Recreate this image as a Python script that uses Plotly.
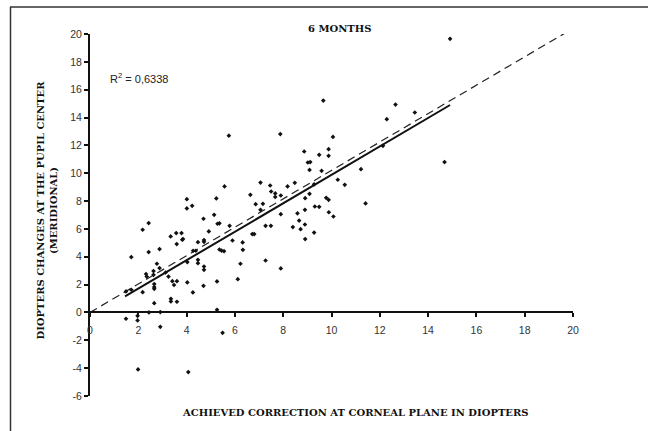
import plotly.graph_objects as go

# ---- data ----
x_vals = [14.91, 9.66, 12.65, 13.45, 12.29, 7.88, 10.06, 8.87, 9.88, 9.88, 9.49, 9.02, 9.12, 9.09, 9.59,
          11.22, 12.13, 14.68, 10.26, 10.55, 11.41, 7.46, 8.18, 8.48, 9.28, 7.5, 7.67, 7.67, 7.9, 9.09,
          8.91, 9.78, 9.88, 9.31, 9.49, 8.9, 9.89, 10.08, 8.59, 7.9, 7.49, 7.27, 8.4, 8.66, 8.72, 8.9,
          8.91, 9.28, 7.9,
          5.57, 7.06, 6.64, 4.01, 5.23, 4.01, 4.23, 6.86, 7.16, 7.06, 5.14, 2.43, 2.18, 4.7, 5.28, 5.36,
          5.78, 4.92, 3.34, 3.57, 3.79, 3.82, 3.85, 3.59, 4.47, 4.72, 4.72, 2.88, 2.43, 1.71, 4.27, 4.38,
          5.36, 5.45, 5.55, 5.9, 6.32, 6.33, 6.72, 6.8, 7.27, 6.23, 6.12, 5.26, 4.7, 4.72, 4.72, 4.47,
          4.47, 4.03, 4.03, 4.26, 3.41, 3.48, 3.6, 3.13, 3.25, 2.88, 2.77, 2.63, 2.63, 2.66, 2.66, 2.66,
          2.32, 2.35, 2.18, 1.71, 1.49, 2.66, 3.35, 3.35, 3.6, 5.26, 5.75,
          1.49, 1.97, 1.97, 2.44, 2.91, 2.91, 5.49, 1.99, 4.07]
y_vals = [19.65, 15.22, 14.93, 14.36, 13.88, 12.81, 12.61, 11.56, 11.73, 11.25, 11.32, 10.77, 10.8, 10.24, 10.17,
          10.29, 11.97, 10.8, 9.53, 9.17, 7.83, 9.12, 9.05, 9.31, 9.2, 8.69, 8.55, 8.3, 8.4, 8.52,
          8.21, 8.23, 8.09, 7.61, 7.59, 7.37, 7.2, 6.89, 7.12, 7.06, 6.22, 6.22, 6.13, 6.6, 5.98, 6.32,
          5.27, 5.74, 3.16,
          9.05, 9.33, 8.45, 8.14, 8.19, 7.47, 7.66, 7.78, 7.8, 7.37, 7.01, 6.42, 5.94, 6.73, 6.37, 6.4,
          6.22, 5.82, 5.46, 5.7, 5.7, 5.22, 5.27, 4.91, 5.05, 5.2, 5.07, 4.55, 4.34, 3.98, 4.43, 4.43,
          4.52, 4.44, 4.4, 5.17, 5.03, 4.5, 5.63, 5.63, 3.73, 3.5, 2.39, 2.23, 1.91, 3.3, 3.06, 3.78,
          3.54, 3.62, 2.16, 1.44, 2.25, 1.97, 2.25, 2.87, 2.58, 3.19, 3.5, 2.97, 2.7, 2.04, 1.82, 1.7,
          2.76, 2.58, 1.46, 1.63, 1.51, 0.67, 0.98, 0.79, 0.77, 0.19, 12.7,
          -0.45, -0.24, -0.57, 0.0, 0.03, -1.03, -1.46, -4.09, -4.28]

identity_x = [0, 19.8]
identity_y = [0, 20.2]
fit_x = [1.45, 14.91]
fit_y = [1.15, 14.9]

x_ticks = [0, 2, 4, 6, 8, 10, 12, 14, 16, 18, 20]
x_tick_labels = ["0", "2", "4", "6", "8", "10", "12", "14", "16", "18", "20"]
y_ticks = [-6, -4, -2, 0, 2, 4, 6, 8, 10, 12, 14, 16, 18, 20]
y_tick_labels = ["-6", "-4", "-2", "0", "2", "4", "6", "8", "10", "12", "14", "16", "18", "20"]

title_text = "6 MONTHS"
r2_text = "R<sup>2</sup> = 0,6338"
x_title = "ACHIEVED CORRECTION AT CORNEAL PLANE IN DIOPTERS"
y_title = "DIOPTERS CHANGES AT THE PUPIL CENTER<br>(MERIDIONAL)"

# ---- figure ----
W, H = 648, 431
ML, MR, MT, MB = 90, 75, 34, 35
pw, ph = W - ML - MR, H - MT - MB

def px(xp):
    return (xp - ML) / pw

def py(yp):
    return (H - MB - yp) / ph

serif = "DejaVu Serif"
sans = "Liberation Sans, Arial, sans-serif"

fig = go.Figure()
fig.add_trace(go.Scatter(x=identity_x, y=identity_y, mode="lines",
                         line=dict(color="#222", width=1.2, dash="8px,5px"), hoverinfo="skip"))
fig.add_trace(go.Scatter(x=fit_x, y=fit_y, mode="lines",
                         line=dict(color="#111", width=2), hoverinfo="skip"))
fig.add_trace(go.Scatter(x=x_vals, y=y_vals, mode="markers",
                         marker=dict(symbol="diamond", size=3.6, color="#111", line=dict(width=0))))

fig.update_layout(
    template="none",
    width=W, height=H,
    margin=dict(l=ML, r=MR, t=MT, b=MB, autoexpand=False),
    paper_bgcolor="white", plot_bgcolor="white",
    showlegend=False,
    xaxis=dict(range=[0, 20], tickvals=x_ticks, ticktext=x_tick_labels, automargin=False,
               showgrid=False, zeroline=False, showline=True, linecolor="#111", linewidth=2,
               ticks="outside", ticklen=4, tickwidth=1.5, tickcolor="#111",
               anchor="free", position=6 / 26, ticklabelstandoff=4,
               tickfont=dict(family=sans, size=10.5, color="#333")),
    yaxis=dict(range=[-6, 20], tickvals=y_ticks, ticktext=y_tick_labels, automargin=False,
               showgrid=False, zeroline=False, showline=True, linecolor="#111", linewidth=2,
               ticks="outside", ticklen=4, tickwidth=1.5, tickcolor="#111",
               tickfont=dict(family=sans, size=10.5, color="#333")),
)

fig.add_annotation(text=title_text, xref="paper", yref="paper", x=px(339.5), y=py(28.3),
                   xanchor="center", yanchor="middle", showarrow=False,
                   font=dict(family=serif, size=10, color="#111", weight="bold"))
fig.add_annotation(text=r2_text, xref="x", yref="y", x=0.75, y=16.85,
                   xanchor="left", yanchor="middle", showarrow=False,
                   font=dict(family=sans, size=11, color="#222"))
fig.add_annotation(text=x_title, xref="paper", yref="paper", x=px(355.4), y=py(412.5),
                   xanchor="center", yanchor="middle", showarrow=False,
                   font=dict(family=serif, size=10, color="#111", weight="bold"))
fig.add_annotation(text=y_title, xref="paper", yref="paper", x=px(46.5), y=py(210),
                   xanchor="center", yanchor="middle", showarrow=False, textangle=-90,
                   font=dict(family=serif, size=10, color="#111", weight="bold"))

# outer frame (top and left edges of the figure border)
fig.add_shape(type="line", xref="paper", yref="paper", x0=px(10), x1=px(648), y0=py(7), y1=py(7),
              line=dict(color="#333", width=1.5))
fig.add_shape(type="line", xref="paper", yref="paper", x0=px(10.5), x1=px(10.5), y0=py(7), y1=py(431),
              line=dict(color="#333", width=1.5))

fig.write_html("out.html", config={"displayModeBar": False},
               post_script="document.body.style.margin='0';document.body.style.padding='0';")
